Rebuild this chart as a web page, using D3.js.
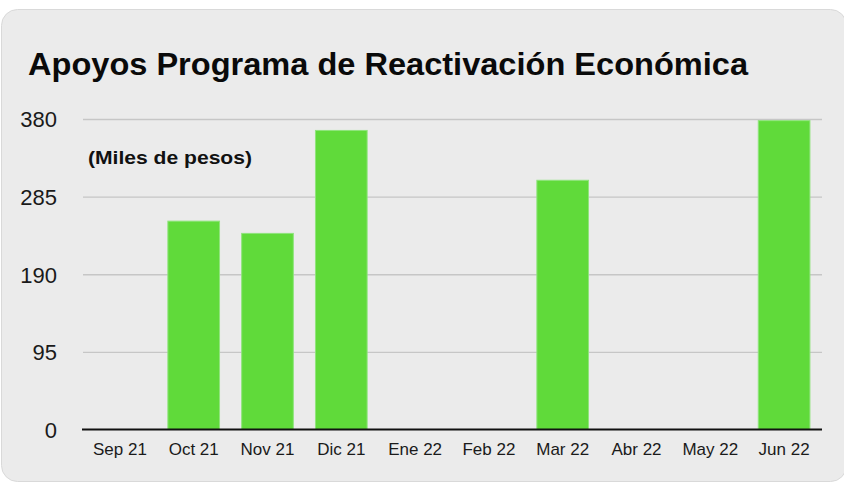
<!DOCTYPE html>
<html>
<head>
<meta charset="utf-8">
<script src="https://cdn.jsdelivr.net/npm/d3@7/dist/d3.min.js"></script>
<style>
  html, body { margin: 0; padding: 0; background: #ffffff; }
  svg { display: block; }
  text { font-family: "Liberation Sans", Arial, Helvetica, sans-serif; }
</style>
</head>
<body>
<svg id="chart" width="844" height="483"></svg>
<script>
const title = "Apoyos Programa de Reactivación Económica";
const subtitle = "(Miles de pesos)";
const categories = ["Sep 21", "Oct 21", "Nov 21", "Dic 21", "Ene 22", "Feb 22", "Mar 22", "Abr 22", "May 22", "Jun 22"];
const values = [0, 255, 240, 366, 0, 0, 305, 0, 0, 378];
const yTicks = [0, 95, 190, 285, 380];

const svg = d3.select("#chart");

// card background
svg.append("rect")
  .attr("x", 1.5).attr("y", 9.5)
  .attr("width", 845).attr("height", 472)
  .attr("rx", 16).attr("ry", 16)
  .attr("fill", "#ebebeb")
  .attr("stroke", "#d9d9d9")
  .attr("stroke-width", 1);

const x = d3.scaleBand()
  .domain(categories)
  .range([83, 821])
  .paddingInner(0.3)
  .paddingOuter(0.15);

const y = d3.scaleLinear()
  .domain([0, 380])
  .range([429.5, 119]);

// y axis with gridlines
const yAxis = d3.axisLeft(y)
  .tickValues(yTicks)
  .tickSize(-739)
  .tickPadding(26)
  .tickFormat(d3.format("d"));

const gy = svg.append("g")
  .attr("transform", "translate(83,0)")
  .call(yAxis);
gy.select(".domain").remove();
gy.selectAll(".tick line")
  .attr("stroke", "#c6c6c6")
  .attr("stroke-width", 1.4)
  .filter(d => d === 0).remove();
gy.selectAll(".tick text")
  .attr("font-size", 22)
  .attr("fill", "#1a1a1a")
  .attr("dy", "0.36em")
  .style("font-family", "'Liberation Sans', Arial, sans-serif");

// bars
svg.append("g")
  .selectAll("rect")
  .data(categories.map((c, i) => ({ c, v: values[i] })).filter(d => d.v > 0))
  .join("rect")
  .attr("x", d => x(d.c))
  .attr("y", d => y(d.v))
  .attr("width", x.bandwidth())
  .attr("height", d => y(0) - y(d.v))
  .attr("fill", "#60da3a")
  .attr("stroke", "#8fe47c")
  .attr("stroke-width", 1);

// x axis
const xAxis = d3.axisBottom(x).tickSize(0).tickPadding(13.5);
const gx = svg.append("g")
  .attr("transform", `translate(0,${y(0)})`)
  .call(xAxis);
gx.select(".domain").remove();
gx.selectAll(".tick text")
  .attr("font-size", 17)
  .attr("fill", "#1a1a1a")
  .style("font-family", "'Liberation Sans', Arial, sans-serif");

// baseline
svg.append("line")
  .attr("x1", 82).attr("x2", 822)
  .attr("y1", y(0)).attr("y2", y(0))
  .attr("stroke", "#111")
  .attr("stroke-width", 2);

// title
svg.append("text")
  .attr("x", 28).attr("y", 75)
  .attr("font-size", 31)
  .attr("font-weight", "bold")
  .attr("fill", "#0a0a0a")
  .attr("textLength", 720)
  .attr("lengthAdjust", "spacingAndGlyphs")
  .text(title);

// subtitle
svg.append("text")
  .attr("x", 88).attr("y", 163.5)
  .attr("font-size", 19)
  .attr("font-weight", "bold")
  .attr("fill", "#111")
  .attr("textLength", 164)
  .attr("lengthAdjust", "spacingAndGlyphs")
  .text(subtitle);
</script>
</body>
</html>
